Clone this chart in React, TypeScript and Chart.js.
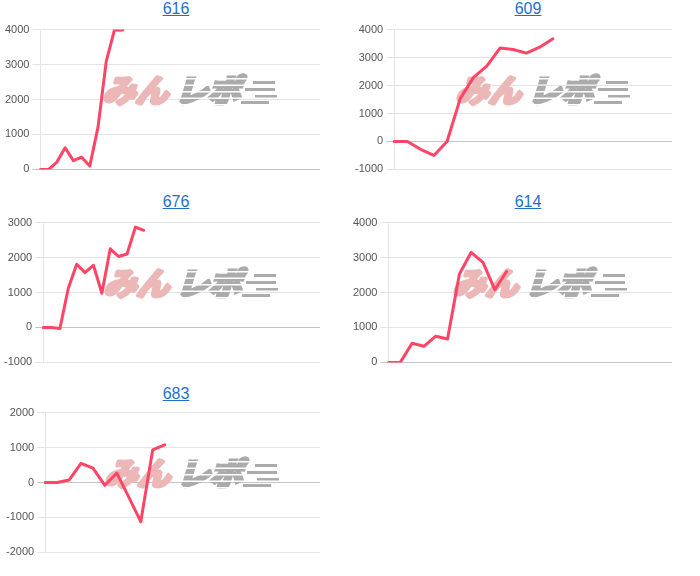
import React, { useEffect, useRef } from "react";
import { Chart, registerables } from "chart.js";

Chart.register(...registerables);

// ---- data ----
const titles = ["616", "609", "676", "614", "683"];
const values616 = [0, 0, 210, 620, 250, 350, 95, 1210, 3090, 3990, 3990];
const values609 = [0, 0, -280, -500, 0, 1540, 2290, 2690, 3340, 3290, 3160, 3370, 3670];
const values676 = [0, 0, -30, 1120, 1810, 1570, 1780, 980, 2250, 2030, 2100, 2870, 2780];
const values614 = [0, 0, 550, 460, 750, 670, 2520, 3150, 2860, 2080, 2600];
const values683 = [0, 0, 70, 550, 410, -80, 270, -420, -1120, 930, 1080];
const seriesList = [values616, values609, values676, values614, values683];
const slotCounts = [35, 22, 34, 25, 24];
const yMins = [0, -1000, -1000, 0, -2000];
const yMaxs = [4000, 4000, 3000, 4000, 2000];
const yStep = 1000;

// ---- layout ----
const panelLefts = [0, 352, 0, 352, 0];
const panelTops = [0, 0, 193, 193, 385];
const canvasLefts = [2, 352, 1, 350, 3];
const canvasWidths = [318, 320, 319, 322, 317];
const canvasTops = [20, 20, 213, 213, 403];
const canvasHeight = 159;

const LINE_COLOR = "#ff4466";

function makeWatermark(): HTMLCanvasElement {
  const c = document.createElement("canvas");
  c.width = 190;
  c.height = 44;
  const g = c.getContext("2d")!;
  const font = "bold 31px 'Noto Sans CJK JP', sans-serif";
  // pink part
  g.save();
  g.setTransform(1.05, 0, -0.3, 1, 12, 0);
  g.font = font;
  g.fillStyle = "#ebb7b7";
  g.strokeStyle = "#ebb7b7";
  g.lineWidth = 4;
  g.lineJoin = "round";
  g.strokeText("みん", 2, 35);
  g.fillText("みん", 2, 35);
  g.restore();
  // grey part on separate layer
  const c2 = document.createElement("canvas");
  c2.width = 190;
  c2.height = 44;
  const h = c2.getContext("2d")!;
  h.save();
  h.setTransform(1.05, 0, -0.3, 1, 12, 0);
  h.font = font;
  h.fillStyle = "#ababab";
  h.strokeStyle = "#ababab";
  h.lineWidth = 4;
  h.lineJoin = "miter";
  h.strokeText("レポ", 71, 35);
  h.fillText("レポ", 71, 35);
  h.restore();
  // speed lines
  h.fillStyle = "#ababab";
  const bars = [
    [154, 14, 22, 3],
    [146, 21, 30, 3],
    [156, 28, 22, 3],
    [142, 34, 28, 3],
  ];
  bars.forEach(([x, y, w, hh]) => h.fillRect(x, y, w, hh));
  // cut stripes
  h.globalCompositeOperation = "destination-out";
  for (let y = 11; y < 44; y += 6.5) {
    h.fillRect(66, y, 124, 1.5);
  }
  g.drawImage(c2, 0, 0);
  return c;
}

function ChartPanel({ idx }: { idx: number }) {
  const ref = useRef<HTMLCanvasElement | null>(null);
  useEffect(() => {
    if (!ref.current) return;
    const labels = Array.from({ length: slotCounts[idx] }, (_, i) => String(i + 1));
    const wm = makeWatermark();
    const watermarkPlugin = {
      id: "watermark" + idx,
      beforeDatasetsDraw(chart: any) {
        const a = chart.chartArea;
        const cx = a.left + (a.right - a.left) * 0.55;
        const cy = (a.top + a.bottom) / 2 - 11;
        chart.ctx.drawImage(wm, Math.round(cx - wm.width / 2), Math.round(cy - wm.height / 2));
      },
    };
    const chart = new Chart(ref.current, {
      type: "line",
      data: {
        labels,
        datasets: [
          {
            data: seriesList[idx],
            borderColor: LINE_COLOR,
            backgroundColor: LINE_COLOR,
            borderWidth: 3,
            pointRadius: 0,
            tension: 0,
            fill: false,
            borderJoinStyle: "round",
            borderCapStyle: "round",
          },
        ],
      },
      options: {
        animation: false,
        responsive: false,
        devicePixelRatio: 1,
        layout: { padding: 0 },
        plugins: {
          legend: { display: false },
          tooltip: { enabled: false },
          title: { display: false },
        },
        scales: {
          x: { display: false },
          y: {
            min: yMins[idx],
            max: yMaxs[idx],
            ticks: {
              stepSize: yStep,
              color: "#555",
              padding: 3,
              font: { family: "'Liberation Sans', Arial, sans-serif", size: 11 },
              callback: (v: any) => String(v),
            },
            grid: {
              color: (c: any) => (c.tick && c.tick.value === 0 ? "#c4c4c4" : "#e4e4e4"),
              tickLength: 8,
              drawTicks: true,
            },
            border: { display: true, color: "#e4e4e4" },
          },
        },
      },
      plugins: [watermarkPlugin],
    } as any);
    return () => chart.destroy();
  }, [idx]);
  return (
    <>
      <div
        style={{
          position: "absolute",
          left: panelLefts[idx],
          top: panelTops[idx],
          width: 352,
          textAlign: "center",
          fontFamily: "'Liberation Sans', Arial, sans-serif",
          fontSize: 16,
        }}
      >
        <a href="#" style={{ color: "#1f6fcf", textDecoration: "underline" }}>
          {titles[idx]}
        </a>
      </div>
      <canvas
        ref={ref}
        width={canvasWidths[idx]}
        height={canvasHeight}
        style={{
          position: "absolute",
          left: canvasLefts[idx],
          top: canvasTops[idx],
          width: canvasWidths[idx],
          height: canvasHeight,
        }}
      />
    </>
  );
}

export default function App() {
  return (
    <div
      style={{
        position: "fixed",
        left: 0,
        top: 0,
        width: 700,
        height: 576,
        background: "#fff",
        overflow: "hidden",
      }}
    >
      {titles.map((_, i) => (
        <ChartPanel key={i} idx={i} />
      ))}
    </div>
  );
}
